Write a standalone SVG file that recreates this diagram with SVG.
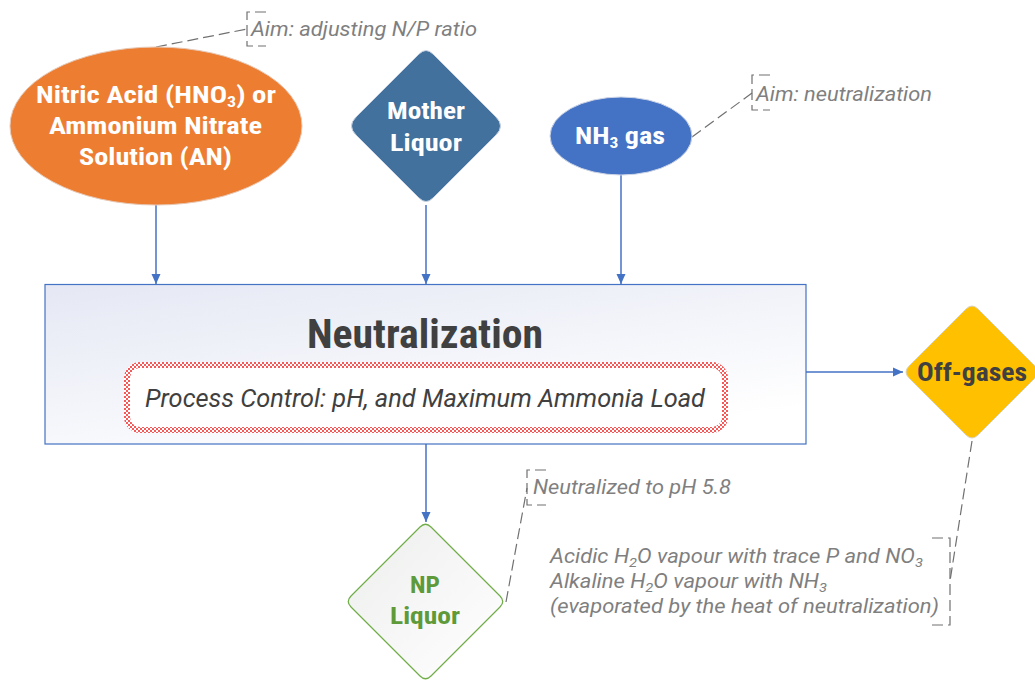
<svg xmlns="http://www.w3.org/2000/svg" width="1035" height="682" viewBox="0 0 1035 682">
<defs>
<style>
.lbl{font-family:Roboto,"Liberation Sans",sans-serif;font-weight:700;font-stretch:condensed}
.note{font-family:Roboto,"Liberation Sans",sans-serif;font-style:italic;font-size:19.5px;fill:#7f7f7f}
.arrow{stroke:#4472C4;stroke-width:1.5;fill:none;marker-end:url(#ah)}
.dash{stroke:#707070;stroke-width:1.2;fill:none;stroke-dasharray:11 5}
.sub{font-size:13px}
</style>
<marker id="ah" markerUnits="userSpaceOnUse" markerWidth="10" markerHeight="10" refX="10" refY="5" orient="auto">
<path d="M0,0.5 L10,5 L0,9.5 Z" fill="#4472C4"/>
</marker>
<linearGradient id="boxg" x1="0" y1="0" x2="0.65" y2="1">
<stop offset="0" stop-color="#e5e8f4"/>
<stop offset="1" stop-color="#ffffff"/>
</linearGradient>
<linearGradient id="npg" x1="0" y1="0" x2="1" y2="1">
<stop offset="0" stop-color="#eceeec"/>
<stop offset="1" stop-color="#ffffff"/>
</linearGradient>
<pattern id="chk" patternUnits="userSpaceOnUse" width="4" height="4">
<rect width="4" height="4" fill="#ffffff"/>
<rect width="2" height="2" fill="#f55a5a"/>
<rect x="2" y="2" width="2" height="2" fill="#f55a5a"/>
</pattern>
</defs>
<rect width="1035" height="682" fill="#ffffff"/>

<g id="connectors">
<line class="arrow" x1="156" y1="205" x2="156" y2="284"/>
<line class="arrow" x1="426" y1="205" x2="426" y2="284"/>
<line class="arrow" x1="621" y1="175" x2="621" y2="284"/>
<line class="arrow" x1="806" y1="372" x2="903" y2="372"/>
<line class="arrow" x1="426" y1="444" x2="426" y2="522"/>
<line class="dash" x1="156" y1="47" x2="247" y2="29"/>
<line class="dash" x1="692" y1="137" x2="752" y2="93"/>
<line class="dash" x1="506" y1="602" x2="527" y2="488"/>
<line class="dash" x1="972" y1="441" x2="950" y2="581"/>
</g>

<g id="node-nitric">
<ellipse cx="156" cy="126" rx="146" ry="79" fill="#ED7D31" stroke="#e6c8b5" stroke-width="1"/>
<text class="lbl" font-size="24" fill="#ffffff" x="36" y="103" textLength="240" lengthAdjust="spacingAndGlyphs">Nitric Acid (HNO<tspan font-size="15" dy="4">3</tspan><tspan dy="-4">) or</tspan></text>
<text class="lbl" font-size="24" fill="#ffffff" x="49" y="134" textLength="213" lengthAdjust="spacingAndGlyphs">Ammonium Nitrate</text>
<text class="lbl" font-size="24" fill="#ffffff" x="79" y="165" textLength="153" lengthAdjust="spacingAndGlyphs">Solution (AN)</text>
</g>

<g id="note-np-ratio">
<path class="dash" d="M266 12 H247 V46 H266"/>
<text class="note" x="251" y="36" textLength="226" lengthAdjust="spacingAndGlyphs">Aim: adjusting N/P ratio</text>
</g>

<g id="node-mother">
<path d="M419 54 Q426 47 433 54 L496 117 Q505 126 496 135 L433 198 Q426 205 419 198 L356 135 Q347 126 356 117 Z" fill="#41719C" stroke="#c9d3e3" stroke-width="1"/>
<text class="lbl" font-size="24" fill="#ffffff" x="387" y="119" textLength="78" lengthAdjust="spacingAndGlyphs">Mother</text>
<text class="lbl" font-size="24" fill="#ffffff" x="390" y="151" textLength="72" lengthAdjust="spacingAndGlyphs">Liquor</text>
</g>

<g id="node-nh3">
<ellipse cx="621" cy="136" rx="71" ry="39" fill="#4472C4" stroke="#ccd4e6" stroke-width="1"/>
<text class="lbl" font-size="24" fill="#ffffff" x="575" y="144" textLength="90" lengthAdjust="spacingAndGlyphs">NH<tspan font-size="15" dy="4">3</tspan><tspan dy="-4"> gas</tspan></text>
</g>

<g id="note-neutralization">
<path class="dash" d="M770 75 H752 V110 H770"/>
<text class="note" x="756" y="101" textLength="176" lengthAdjust="spacingAndGlyphs">Aim: neutralization</text>
</g>

<g id="node-neutralization">
<rect x="45" y="284.5" width="761" height="159.5" fill="url(#boxg)" stroke="#4472C4" stroke-width="1.2"/>
<text class="lbl" font-size="40" fill="#404040" x="307" y="348" textLength="236" lengthAdjust="spacingAndGlyphs">Neutralization</text>
<rect x="127" y="365" width="598" height="65" rx="13" fill="#ffffff" stroke="url(#chk)" stroke-width="6"/>
<text x="145" y="407" font-family="Roboto,'Liberation Sans',sans-serif" font-style="italic" font-size="25" fill="#404040" textLength="560" lengthAdjust="spacingAndGlyphs">Process Control: pH, and Maximum Ammonia Load</text>
</g>

<g id="node-offgases">
<path d="M966 309 Q972 303 978 309 L1035 366 Q1041 372 1035 378 L978 435 Q972 441 966 435 L909 378 Q903 372 909 366 Z" fill="#FFC000" stroke="#d9d2bd" stroke-width="1"/>
<text class="lbl" font-size="26" fill="#404040" x="917" y="381" textLength="110" lengthAdjust="spacingAndGlyphs">Off-gases</text>
</g>

<g id="node-np">
<path d="M420 527 Q425.5 521.5 431 527 L500 596 Q505.5 601.5 500 607 L431 676 Q425.5 681.5 420 676 L351 607 Q345.5 601.5 351 596 Z" fill="url(#npg)" stroke="#70AD47" stroke-width="1.2"/>
<text class="lbl" font-size="24" fill="#5e9a3a" x="410" y="593" textLength="30" lengthAdjust="spacingAndGlyphs">NP</text>
<text class="lbl" font-size="24" fill="#5e9a3a" x="390" y="624" textLength="70" lengthAdjust="spacingAndGlyphs">Liquor</text>
</g>

<g id="note-ph">
<path class="dash" d="M546 470 H527 V505 H546"/>
<text class="note" x="533" y="494" textLength="198" lengthAdjust="spacingAndGlyphs">Neutralized to pH 5.8</text>
</g>

<g id="note-offgases">
<path class="dash" d="M932 538 H950 V625 H932"/>
<text class="note" x="550" y="563" textLength="373" lengthAdjust="spacingAndGlyphs">Acidic H<tspan class="sub" dy="4">2</tspan><tspan dy="-4">O vapour with trace P and NO</tspan><tspan class="sub" dy="4">3</tspan></text>
<text class="note" x="550" y="588" textLength="277" lengthAdjust="spacingAndGlyphs">Alkaline H<tspan class="sub" dy="4">2</tspan><tspan dy="-4">O vapour with NH</tspan><tspan class="sub" dy="4">3</tspan></text>
<text class="note" x="550" y="613" textLength="389" lengthAdjust="spacingAndGlyphs">(evaporated by the heat of neutralization)</text>
</g>
</svg>
